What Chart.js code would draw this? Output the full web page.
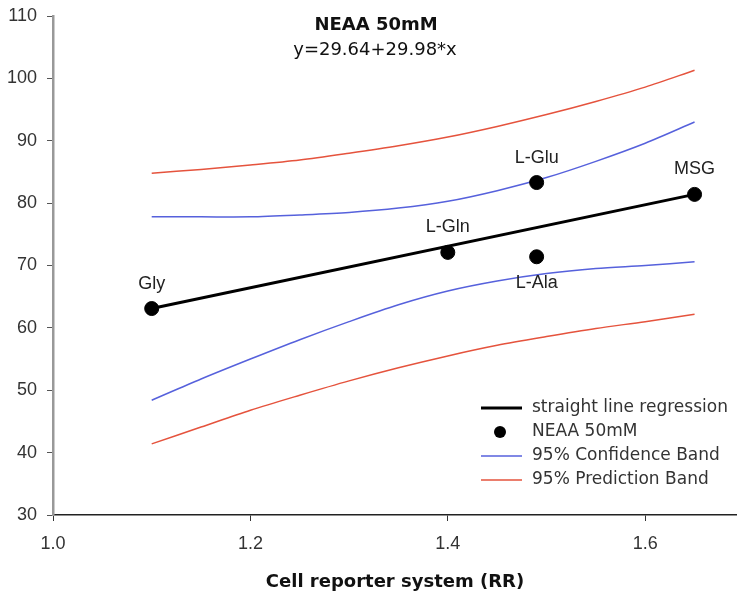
<!DOCTYPE html>
<html>
<head>
<meta charset="utf-8">
<script src="https://cdn.jsdelivr.net/npm/chart.js@4/dist/chart.umd.min.js"></script>
<style>
  html, body { margin: 0; padding: 0; background: #fff; }
  #wrap { width: 737px; height: 599px; }
</style>
</head>
<body>
<div id="wrap"><canvas id="fitChart"></canvas></div>
<script>
// measured points
const aminoNames = ["Gly", "L-Gln", "L-Glu", "L-Ala", "MSG"];
const aminoX = [1.10, 1.40, 1.49, 1.49, 1.65];
const aminoY = [63.1, 72.1, 83.3, 71.4, 81.4];

// regression line ends
const fitX = [1.10, 1.65];
const fitY = [63.1, 81.4];

// band curves
const bandX = [1.10, 1.15, 1.20, 1.25, 1.30, 1.35, 1.40, 1.45, 1.50, 1.55, 1.60, 1.65];
const confUpper = [77.8, 77.8, 77.8, 78.1, 78.5, 79.2, 80.3, 82.0, 84.1, 86.7, 89.6, 93.0];
const confLower = [48.4, 51.8, 55.0, 58.1, 61.0, 63.7, 65.9, 67.5, 68.7, 69.5, 70.0, 70.6];
const predUpper = [84.8, 85.4, 86.1, 86.9, 88.0, 89.2, 90.6, 92.3, 94.2, 96.3, 98.6, 101.3];
const predLower = [41.4, 44.1, 46.8, 49.2, 51.5, 53.6, 55.5, 57.2, 58.6, 59.9, 61.0, 62.2];

const xTicks = [1.0, 1.2, 1.4, 1.6];
const yTicks = [30, 40, 50, 60, 70, 80, 90, 100, 110];

const plotTitle = "NEAA 50mM";
const equationText = "y=29.64+29.98*x";
const xTitle = "Cell reporter system (RR)";

// label placement per point (above / below)
const labelSide = ["above", "above", "above", "below", "above"];

const BLUE = "#5661dc";
const RED = "#e5533d";

function toXY(xs, ys) {
  return xs.map((x, i) => ({ x: x, y: ys[i] }));
}

// stretch the x axis to the right edge of the canvas
const fullWidth = {
  id: "fullWidth",
  afterLayout(chart) {
    const x = chart.scales.x;
    const edge = chart.width;
    x.right = edge;
    x.width = edge - x.left;
    x.configure();
    chart.chartArea.right = edge;
    chart.chartArea.width = edge - chart.chartArea.left;
  }
};

const pointLabels = {
  id: "pointLabels",
  afterDatasetsDraw(chart) {
    const ctx = chart.ctx;
    const pts = chart.getDatasetMeta(0).data;
    ctx.save();
    ctx.font = "18px 'Liberation Sans', Arial, sans-serif";
    ctx.fillStyle = "#222";
    ctx.textAlign = "center";
    ctx.textBaseline = "middle";
    pts.forEach((p, i) => {
      const dy = labelSide[i] === "below" ? 26 : -25;
      ctx.fillText(aminoNames[i], p.x, p.y + dy);
    });
    ctx.restore();
  }
};

const headerText = {
  id: "headerText",
  afterDraw(chart) {
    const ctx = chart.ctx;
    ctx.save();
    ctx.fillStyle = "#111";
    ctx.textAlign = "center";
    ctx.textBaseline = "middle";
    ctx.font = "bold 18px 'DejaVu Sans', Verdana, sans-serif";
    ctx.fillText(plotTitle, 376, 25);
    ctx.font = "18px 'DejaVu Sans', Verdana, sans-serif";
    ctx.fillText(equationText, 375, 50);
    ctx.restore();
  }
};

const boxLegend = {
  id: "boxLegend",
  afterDraw(chart) {
    const ctx = chart.ctx;
    const ds = chart.data.datasets;
    const rows = [
      { text: ds[1].label, kind: "line", color: ds[1].borderColor, w: ds[1].borderWidth },
      { text: ds[0].label, kind: "dot", color: ds[0].backgroundColor },
      { text: ds[2].label, kind: "line", color: ds[2].borderColor, w: ds[2].borderWidth },
      { text: ds[4].label, kind: "line", color: ds[4].borderColor, w: ds[4].borderWidth }
    ];
    ctx.save();
    ctx.font = "17px 'DejaVu Sans', Verdana, sans-serif";
    ctx.textBaseline = "middle";
    ctx.textAlign = "left";
    rows.forEach((r, i) => {
      const y = 408 + i * 24;
      if (r.kind === "line") {
        ctx.strokeStyle = r.color;
        ctx.lineWidth = r.w;
        ctx.beginPath();
        ctx.moveTo(481, y);
        ctx.lineTo(522, y);
        ctx.stroke();
      } else {
        ctx.fillStyle = r.color;
        ctx.beginPath();
        ctx.arc(500, y, 6, 0, Math.PI * 2);
        ctx.fill();
      }
      ctx.fillStyle = "#333";
      ctx.fillText(r.text, 532, y);
    });
    ctx.restore();
  }
};

const ctx = document.getElementById("fitChart").getContext("2d");

new Chart(ctx, {
  type: "scatter",
  data: {
    datasets: [
      {
        label: "NEAA 50mM",
        data: toXY(aminoX, aminoY),
        backgroundColor: "#000",
        borderColor: "#000",
        pointRadius: 7,
        showLine: false
      },
      {
        label: "straight line regression",
        data: toXY(fitX, fitY),
        borderColor: "#000",
        borderWidth: 3,
        pointRadius: 0,
        showLine: true
      },
      {
        label: "95% Confidence Band",
        data: toXY(bandX, confUpper),
        borderColor: BLUE,
        borderWidth: 1.5,
        pointRadius: 0,
        showLine: true,
        tension: 0.3
      },
      {
        label: "95% Confidence Band",
        data: toXY(bandX, confLower),
        borderColor: BLUE,
        borderWidth: 1.5,
        pointRadius: 0,
        showLine: true,
        tension: 0.3
      },
      {
        label: "95% Prediction Band",
        data: toXY(bandX, predUpper),
        borderColor: RED,
        borderWidth: 1.5,
        pointRadius: 0,
        showLine: true,
        tension: 0.3
      },
      {
        label: "95% Prediction Band",
        data: toXY(bandX, predLower),
        borderColor: RED,
        borderWidth: 1.5,
        pointRadius: 0,
        showLine: true,
        tension: 0.3
      }
    ]
  },
  options: {
    responsive: true,
    maintainAspectRatio: false,
    animation: false,
    layout: { padding: { top: 16, right: 0, left: 0, bottom: 0 } },
    plugins: {
      legend: { display: false },
      tooltip: { enabled: false }
    },
    scales: {
      x: {
        type: "linear",
        min: 1.0,
        max: 1.693,
        afterBuildTicks(scale) {
          scale.ticks = xTicks.map(v => ({ value: v }));
        },
        afterFit(scale) {
          scale.height = 84;
          scale.paddingLeft = 0;
          scale.paddingRight = 0;
        },
        ticks: {
          callback: v => Number(v).toFixed(1),
          font: { family: "'Liberation Sans', Arial, sans-serif", size: 18 },
          color: "#333",
          padding: 12,
          maxRotation: 0
        },
        grid: {
          drawOnChartArea: false,
          tickLength: 6,
          tickColor: "#333"
        },
        border: { color: "#222", width: 1.5 },
        title: {
          display: true,
          text: xTitle,
          font: { family: "'DejaVu Sans', Verdana, sans-serif", size: 18, weight: "bold" },
          color: "#111",
          padding: { top: 0, bottom: 6 }
        }
      },
      y: {
        min: 30,
        max: 110,
        afterBuildTicks(scale) {
          scale.ticks = yTicks.map(v => ({ value: v }));
        },
        afterFit(scale) {
          scale.width = 53;
          scale.paddingTop = 0;
          scale.paddingBottom = 0;
        },
        ticks: {
          font: { family: "'Liberation Sans', Arial, sans-serif", size: 18 },
          color: "#333",
          padding: 10
        },
        grid: {
          drawOnChartArea: false,
          tickLength: 6,
          tickColor: "#555"
        },
        border: { color: "#999", width: 2.5 }
      }
    }
  },
  plugins: [fullWidth, pointLabels, headerText, boxLegend]
});
</script>
</body>
</html>
